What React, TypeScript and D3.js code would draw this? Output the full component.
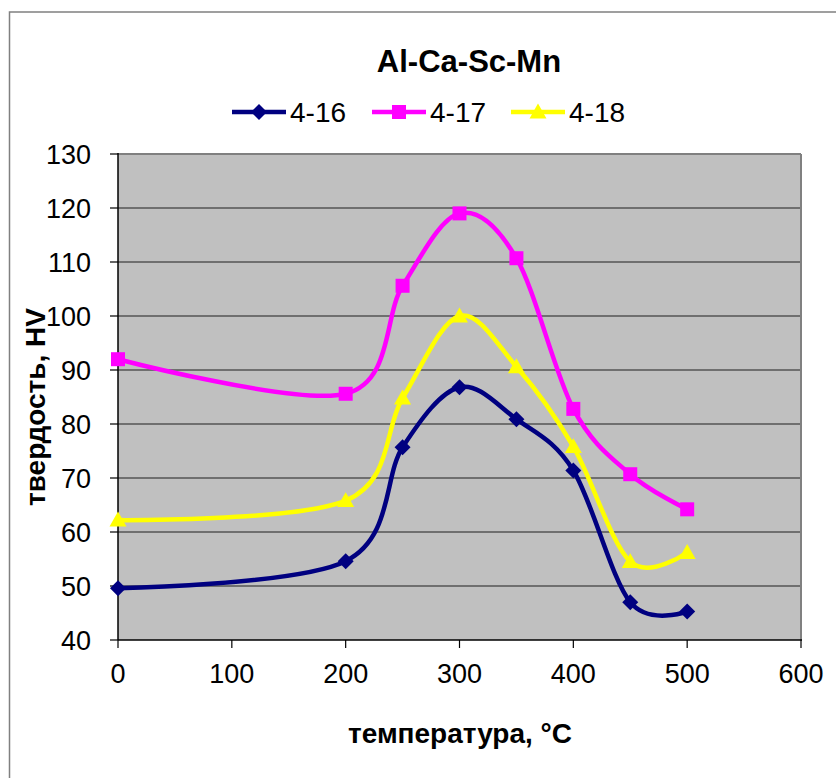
import React from "react";
import * as d3 from "d3";

const temps = [0, 200, 250, 300, 350, 400, 450, 500];
const s416 = [49.6, 54.6, 75.7, 86.8, 80.9, 71.4, 47.0, 45.3];
const s417 = [92.0, 85.6, 105.6, 119.0, 110.7, 82.8, 70.7, 64.2];
const s418 = [62.2, 65.8, 84.8, 100.0, 90.6, 75.8, 54.5, 56.2];
const seriesNames = ["4-16", "4-17", "4-18"];
const xTicks = [0, 100, 200, 300, 400, 500, 600];
const yTicks = [40, 50, 60, 70, 80, 90, 100, 110, 120, 130];
const title = "Al-Ca-Sc-Mn";
const xTitle = "температура, °C";
const yTitle = "твердость, HV";

const W = 836, H = 778;
const left = 118, right = 801, top = 154, bottom = 640;
const FONT = "'Liberation Sans', Arial, sans-serif";

const colors = ["#000080", "#ff00ff", "#ffff00"];
const shapes = ["diamond", "square", "triangle"];

function Marker({ shape, x, y, color }: { shape: string; x: number; y: number; color: string }) {
  if (shape === "diamond") {
    const r = 8;
    return <path d={`M${x},${y - r}L${x + r},${y}L${x},${y + r}L${x - r},${y}Z`} fill={color} />;
  }
  if (shape === "square") {
    const r = 7;
    return <rect x={x - r} y={y - r} width={2 * r} height={2 * r} fill={color} />;
  }
  const r = 8.5;
  return <path d={`M${x},${y - r}L${x + r},${y + r * 0.75}L${x - r},${y + r * 0.75}Z`} fill={color} />;
}

export default function App() {
  const x = d3.scaleLinear().domain([0, 600]).range([left, right]);
  const y = d3.scaleLinear().domain([40, 130]).range([bottom, top]);
  const all = [s416, s417, s418];
  const line = d3
    .line<number>()
    .x((_, i) => x(temps[i]))
    .y((d) => y(d))
    .curve(d3.curveCatmullRom.alpha(0));

  const legendX = [232, 372, 511];

  return (
    <svg width={W} height={H} style={{ position: "absolute", left: 0, top: 0, background: "#fff" }}>
      <rect x={9.5} y={12} width={900} height={900} fill="#fff" stroke="#808080" strokeWidth={1.5} />
      <text x={469} y={72} textAnchor="middle" fontFamily={FONT} fontWeight="bold" fontSize={31}>
        {title}
      </text>
      {seriesNames.map((n, i) => (
        <g key={n}>
          <line x1={legendX[i]} x2={legendX[i] + 54} y1={112} y2={112} stroke={colors[i]} strokeWidth={4.5} />
          <Marker shape={shapes[i]} x={legendX[i] + 27} y={112} color={colors[i]} />
          <text x={legendX[i] + 58} y={122} fontFamily={FONT} fontSize={28}>
            {n}
          </text>
        </g>
      ))}
      <rect x={left} y={top} width={right - left} height={bottom - top} fill="#c0c0c0" />
      {yTicks.slice(1).map((t) => (
        <line key={t} x1={left} x2={right} y1={y(t)} y2={y(t)} stroke="#555" strokeWidth={1.5} />
      ))}
      <line x1={left} x2={right} y1={top} y2={top} stroke="#808080" strokeWidth={2} />
      <line x1={right} x2={right} y1={top} y2={bottom} stroke="#808080" strokeWidth={2} />
      <line x1={left} x2={left} y1={top - 1} y2={bottom} stroke="#000" strokeWidth={1.5} />
      <line x1={left} x2={right + 1} y1={bottom} y2={bottom} stroke="#000" strokeWidth={1.5} />
      {yTicks.map((t) => (
        <g key={t}>
          <line x1={left - 8} x2={left} y1={y(t)} y2={y(t)} stroke="#000" strokeWidth={1.2} />
          <text x={91} y={y(t) + 9.5} textAnchor="end" fontFamily={FONT} fontSize={27}>
            {t}
          </text>
        </g>
      ))}
      {xTicks.map((t) => (
        <g key={t}>
          <line x1={x(t)} x2={x(t)} y1={bottom} y2={bottom + 8} stroke="#000" strokeWidth={1.2} />
          <text x={x(t)} y={683} textAnchor="middle" fontFamily={FONT} fontSize={27}>
            {t}
          </text>
        </g>
      ))}
      {all.map((s, i) => (
        <g key={i}>
          <path d={line(s) || ""} fill="none" stroke={colors[i]} strokeWidth={4.5} />
          {s.map((v, j) => (
            <Marker key={j} shape={shapes[i]} x={x(temps[j])} y={y(v)} color={colors[i]} />
          ))}
        </g>
      ))}
      <text x={460} y={743} textAnchor="middle" fontFamily={FONT} fontWeight="bold" fontSize={28}>
        {xTitle}
      </text>
      <text
        transform={`translate(45,407) rotate(-90)`}
        textAnchor="middle"
        fontFamily={FONT}
        fontWeight="bold"
        fontSize={28}
      >
        {yTitle}
      </text>
    </svg>
  );
}
